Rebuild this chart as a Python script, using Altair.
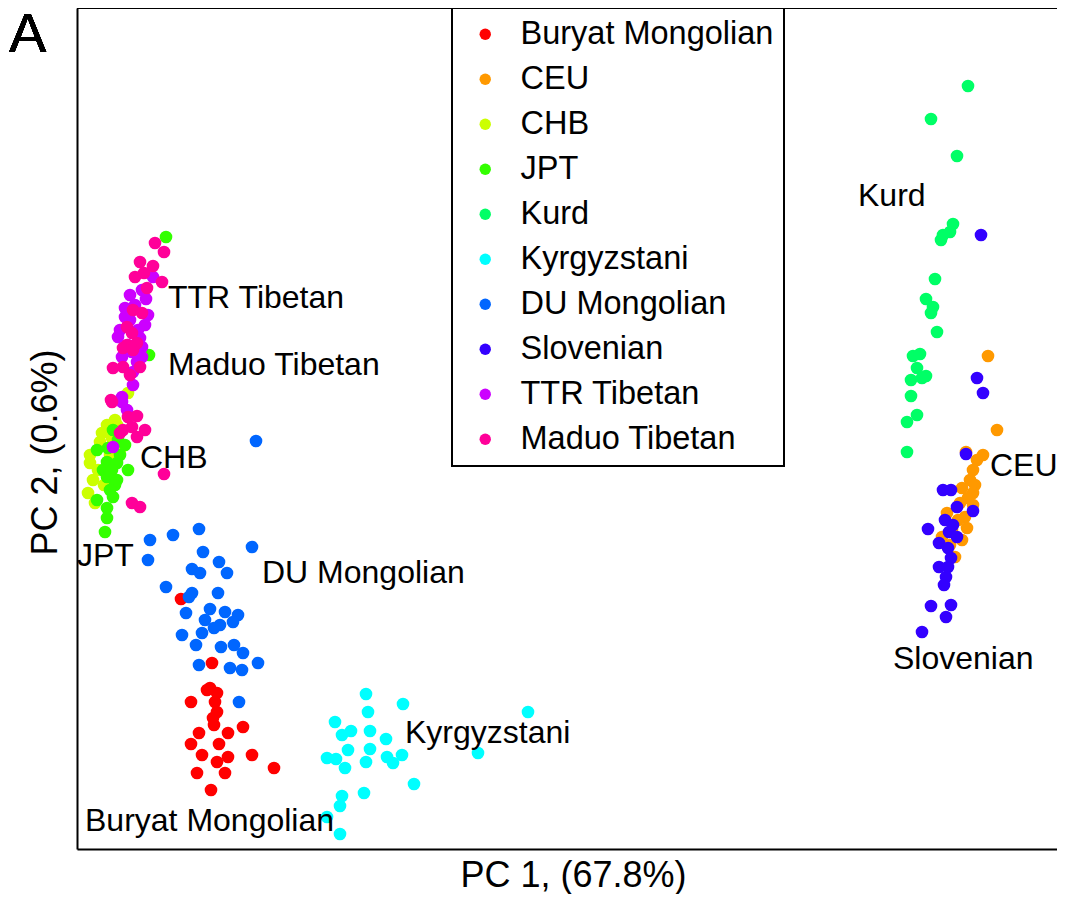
import altair as alt
import pandas as pd

FONT = "Liberation Sans"

groups = ["Buryat Mongolian", "CEU", "CHB", "JPT", "Kurd", "Kyrgyzstani",
          "DU Mongolian", "Slovenian", "TTR Tibetan", "Maduo Tibetan"]
colors = ["#FF0000", "#FF9900", "#CCFF00", "#33FF00", "#00FF66", "#00FFFF",
          "#0066FF", "#3300FF", "#CC00FF", "#FF0099"]

# PC1 / PC2 readings (arbitrary units, no ticks on the original axes; PC2 grows downward here)
buryat = [(181, 599), (212, 663), (207, 690), (217, 693), (191, 702), (215, 702), (217, 712),
          (213, 718), (243, 727), (199, 733), (228, 733), (191, 744), (219, 744), (202, 755),
          (228, 757), (217, 762), (252, 755), (274, 768), (197, 773), (225, 773), (211, 790),
          (210, 688), (214, 725)]
ceu = [(988, 356), (997, 430), (966, 452), (983, 455), (977, 460), (973, 470), (970, 480),
       (975, 485), (962, 488), (973, 493), (968, 498), (960, 503), (973, 505), (947, 513),
       (965, 517), (958, 520), (967, 528), (952, 530), (942, 537), (962, 540), (950, 545),
       (955, 557)]
chb = [(128, 393), (115, 420), (107, 425), (117, 425), (102, 433), (100, 442), (112, 438),
       (120, 450), (110, 455), (90, 455), (90, 463), (98, 470), (93, 480), (104, 485),
       (88, 493), (95, 503)]
jpt = [(166, 237), (149, 355), (113, 430), (118, 440), (125, 445), (108, 448), (97, 450),
       (120, 455), (107, 462), (117, 463), (128, 470), (103, 470), (112, 470), (107, 477),
       (117, 480), (115, 485), (110, 490), (113, 497), (97, 500), (107, 508), (107, 518),
       (105, 532)]
kurd = [(968, 86), (931, 119), (957, 156), (953, 224), (950, 232), (943, 235), (941, 240),
        (935, 279), (926, 299), (933, 307), (931, 313), (937, 332), (913, 356), (920, 354),
        (917, 368), (911, 380), (926, 376), (922, 378), (911, 396), (917, 415), (907, 422),
        (907, 452)]
kyrgyz = [(366, 694), (403, 704), (528, 712), (368, 712), (335, 722), (342, 735), (351, 731),
          (370, 731), (386, 739), (348, 750), (370, 749), (327, 758), (336, 759), (345, 768),
          (366, 762), (387, 757), (402, 755), (393, 763), (478, 753), (414, 784), (342, 796),
          (364, 793), (340, 806), (327, 817), (340, 834)]
du_mongolian = [(256, 441), (150, 540), (173, 535), (199, 529), (252, 547), (203, 552),
                (148, 560), (219, 562), (192, 569), (200, 573), (227, 573), (166, 587),
                (192, 593), (218, 593), (189, 597), (186, 613), (210, 609), (225, 612),
                (238, 615), (205, 620), (233, 622), (220, 625), (214, 628), (182, 635),
                (202, 633), (196, 645), (221, 647), (234, 645), (243, 653), (199, 665),
                (230, 668), (242, 670), (258, 663), (239, 702)]
slovenian = [(981, 235), (977, 378), (983, 393), (966, 454), (943, 490), (951, 490),
             (957, 507), (973, 511), (945, 520), (953, 525), (928, 529), (949, 532),
             (957, 537), (939, 543), (948, 548), (951, 558), (939, 567), (948, 567),
             (946, 577), (944, 585), (931, 606), (951, 605), (946, 617), (922, 632)]
ttr = [(153, 277), (142, 290), (130, 295), (146, 299), (125, 308), (135, 305), (148, 315),
       (125, 317), (130, 320), (145, 325), (120, 330), (138, 330), (118, 337), (140, 338),
       (128, 345), (142, 347), (132, 352), (142, 357), (122, 357), (137, 362), (133, 372),
       (133, 385), (122, 397), (122, 402), (127, 410), (113, 447)]
maduo = [(155, 243), (164, 252), (140, 262), (153, 266), (135, 277), (144, 273), (162, 282),
         (147, 288), (133, 310), (142, 313), (127, 327), (132, 333), (127, 345), (137, 343),
         (123, 348), (133, 350), (113, 368), (123, 367), (140, 367), (130, 375), (111, 400),
         (112, 402), (128, 417), (137, 416), (123, 430), (132, 427), (145, 430), (120, 433),
         (137, 437), (164, 474), (132, 503), (140, 507)]

series = [buryat, ceu, chb, jpt, kurd, kyrgyz, du_mongolian, slovenian, ttr, maduo]

label_text = ["TTR Tibetan", "Maduo Tibetan", "CHB", "JPT", "DU Mongolian", "Kyrgyzstani",
              "Buryat Mongolian", "Kurd", "CEU", "Slovenian"]
label_pc1 = [168, 168, 140, 77, 262, 405, 85, 858, 990, 893]
label_pc2 = [298, 365, 458, 556, 573, 733, 821, 196, 466, 659]

rows = []
for g, pts in zip(groups, series):
    for a, b in pts:
        rows.append({"group": g, "pc1": a, "pc2": b})
df = pd.DataFrame(rows)
labels_df = pd.DataFrame({"text": label_text, "pc1": label_pc1, "pc2": label_pc2})

W, H = 980, 841
xscale = alt.Scale(domain=[77, 77 + W], nice=False, zero=False)
yscale = alt.Scale(domain=[8, 8 + H], nice=False, zero=False, reverse=True)

xaxis = alt.Axis(title="PC 1, (67.8%)", labels=False, ticks=False, grid=False,
                 domainColor="black", domainWidth=2, titleFontSize=36, titleFont=FONT,
                 titleFontWeight="normal", titleColor="black", titlePadding=9, titleX=496)
yaxis = alt.Axis(title="PC 2, (0.6%)", labels=False, ticks=False, grid=False,
                 domainColor="black", domainWidth=2, titleFontSize=36, titleFont=FONT,
                 titleFontWeight="normal", titleColor="black", titleX=-32, titleY=444,
                 titleBaseline="middle")

points = alt.Chart(df).mark_circle(size=160, opacity=1).encode(
    x=alt.X("pc1:Q", scale=xscale, axis=xaxis),
    y=alt.Y("pc2:Q", scale=yscale, axis=yaxis),
    color=alt.Color("group:N", scale=alt.Scale(domain=groups, range=colors), title=None,
                    legend=alt.Legend(orient="none", legendX=375, legendY=0,
                                      strokeColor="black", fillColor="white", padding=10,
                                      labelFontSize=32.5, labelFont=FONT, labelColor="black",
                                      symbolSize=130, symbolType="circle", symbolOffset=7,
                                      labelOffset=19, rowPadding=12, symbolStrokeWidth=0,
                                      labelLimit=400)),
)

labels = alt.Chart(labels_df).mark_text(align="left", baseline="middle", fontSize=32,
                                         font=FONT, color="black").encode(
    x=alt.X("pc1:Q", scale=xscale),
    y=alt.Y("pc2:Q", scale=yscale),
    text="text:N",
)

top_rule = alt.Chart(labels_df).mark_rule(color="black", strokeWidth=2).encode(
    x=alt.value(0), x2=alt.value(W), y=alt.value(0)
)

panel = alt.Chart(labels_df).mark_text(align="left", baseline="top", fontSize=56,
                                        font=FONT, color="black").encode(
    x=alt.value(-68), y=alt.value(0), text=alt.value("A")
)

chart = alt.layer(points, labels, top_rule, panel).properties(
    width=W, height=H,
    autosize=alt.AutoSizeParams(type="none"),
    padding={"left": 69, "top": 0, "right": 0, "bottom": 45},
).configure_view(stroke=None).configure_legend(strokeWidth=2)

chart.save("out.html", embed_options={"renderer": "svg", "actions": False})
